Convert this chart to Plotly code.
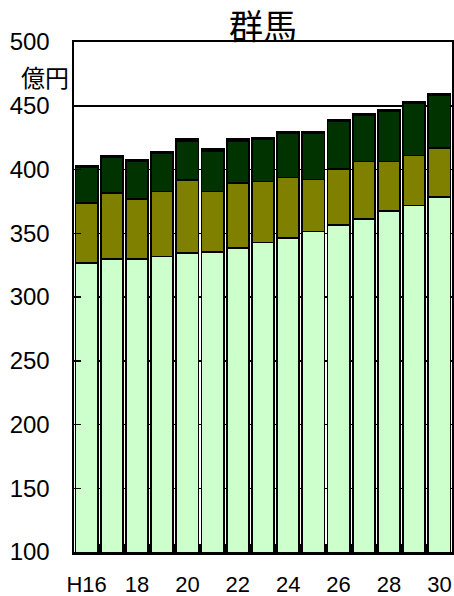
import plotly.graph_objects as go

years = ["H16", "17", "18", "19", "20", "21", "22", "23", "24", "25", "26", "27", "28", "29", "30"]
tick_text = ["H16", "", "18", "", "20", "", "22", "", "24", "", "26", "", "28", "", "30"]
y_ticks = [100, 150, 200, 250, 300, 350, 400, 450, 500]

light = [326.5, 329.9, 329.9, 331.7, 334.4, 335.6, 338.5, 342.7, 346.5, 351.3, 356.4, 361.1, 367.3, 371.7, 378.3]
olive = [47.1, 51.6, 46.9, 51.0, 57.5, 47.1, 50.8, 47.9, 47.2, 40.9, 43.9, 45.2, 39.0, 39.3, 38.5]
dark = [28.2, 28.2, 29.5, 30.1, 30.7, 31.8, 33.3, 33.2, 34.8, 36.3, 37.4, 36.4, 39.3, 40.8, 41.3]
top = [1.3, 1.3, 1.3, 1.3, 1.3, 1.3, 1.3, 1.3, 1.3, 1.3, 1.3, 1.3, 1.3, 1.3, 1.3]

series = [
    (light, "#CCFFCC"),
    (olive, "#808000"),
    (dark, "#003300"),
    (top, "#000000"),
]

fig = go.Figure()
for vals, col in series:
    fig.add_trace(go.Bar(
        x=years, y=vals,
        marker=dict(color=col, line=dict(color="black", width=1.8)),
        showlegend=False, hoverinfo="skip",
    ))

font_latin = "Liberation Sans, Arial, sans-serif"
font_cjk = "Noto Sans CJK JP, sans-serif"

W, H = 454, 596
L, R, T, B = 74, 2, 42, 44
pw, ph = W - L - R, H - T - B

fig.update_layout(
    barmode="stack",
    bargap=0.12,
    width=W, height=H,
    margin=dict(l=L, r=R, t=T, b=B, autoexpand=False),
    plot_bgcolor="white", paper_bgcolor="white",
    title=dict(text="群馬", x=0.5, xref="paper", y=1 - 27 / H, yanchor="middle",
               xanchor="center", font=dict(family=font_cjk, size=34, color="black")),
    xaxis=dict(
        type="category", tickmode="array", tickvals=years, ticktext=tick_text,
        tickangle=0, automargin=False,
        tickfont=dict(family=font_latin, size=22, color="black"),
        showline=True, linecolor="black", linewidth=2.5, mirror=True,
        ticks="inside", tickson="boundaries", ticklen=8, tickwidth=2, tickcolor="black",
        ticklabelstandoff=11, showgrid=False,
    ),
    yaxis=dict(
        range=[100, 500], tickmode="array", tickvals=y_ticks, automargin=False,
        tickfont=dict(family=font_latin, size=24, color="black"),
        showline=True, linecolor="black", linewidth=2.5, mirror=True,
        showgrid=True, gridcolor="black", gridwidth=1.5,
        ticks="inside", ticklen=7, tickwidth=1.5, tickcolor="black",
        ticklabelstandoff=17, zeroline=False,
    ),
    annotations=[dict(
        text="億円", xref="paper", yref="paper", x=(45 - L) / pw, y=1 - (76 - T) / ph,
        xanchor="center", yanchor="middle", showarrow=False,
        font=dict(family=font_cjk, size=24, color="black"),
    )],
)

fig.write_html(
    "out.html",
    config={"displayModeBar": False, "staticPlot": True},
    post_script="document.body.style.margin='0';document.body.style.overflow='hidden';",
)
